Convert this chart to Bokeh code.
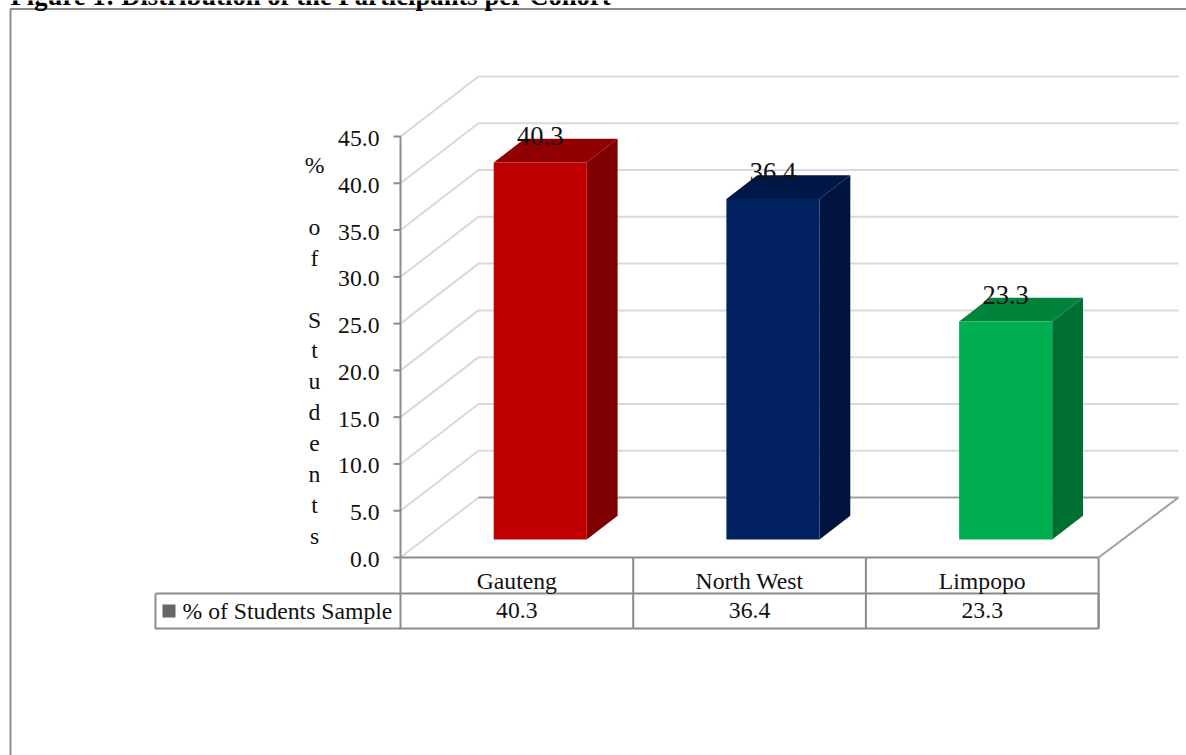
from bokeh.embed import file_html
from bokeh.resources import INLINE
from bokeh.plotting import figure
from bokeh.models import LinearAxis, FixedTicker, NumeralTickFormatter, Range1d
from bokeh.core.properties import value as fixed

categories = ["Gauteng", "North West", "Limpopo"]
series_name = "% of Students Sample"
percentages = [40.3, 36.4, 23.3]
y_ticks = [0, 5, 10, 15, 20, 25, 30, 35, 40, 45]
title_text = "Figure 1: Distribution of the Participants per Cohort"
axis_title = "% of Students"
front_colors = ["#C00000", "#002060", "#00B050"]
top_colors = ["#900000", "#001848", "#00843C"]
side_colors = ["#7E0000", "#00133F", "#006F32"]

W, H = 1186, 755
CAT_PX, UNIT_PX = 232.7, 9.356
X0_PX, Y0_PX = 400.0, 557.0
DEPTH_X, DEPTH_Y = 78 / CAT_PX, 60 / UNIT_PX
SERIF = "Liberation Serif"
FS = "23.7px"
GRID, EDGE = "#D9D9D9", "#8C8C8C"

def sx(px):
    return (px - X0_PX) / CAT_PX

def sy(py):
    return (Y0_PX - py) / UNIT_PX

def proj(cat, val, depth):
    return cat + depth * DEPTH_X, val + depth * DEPTH_Y

p = figure(width=W, height=H, output_backend="svg", toolbar_location=None,
           x_axis_type=None, y_axis_type=None, min_border=0,
           x_range=Range1d(sx(0), sx(W)), y_range=Range1d(sy(H), sy(0)),
           outline_line_color=None, background_fill_color="white")
p.grid.visible = False

# a copy of the value scale, 2px lower, which carries the axis and its tick labels
p.extra_y_ranges = {"tick_labels": Range1d(sy(H - 2), sy(-2))}

# outer chart frame
p.line([sx(10), sx(10), sx(W)], [sy(H), sy(8.5), sy(8.5)], line_color=EDGE, line_width=2)

# walls: side-wall diagonals and back-wall gridlines
for t in y_ticks[1:]:
    x0, y0 = proj(0, t, 0)
    x1, y1 = proj(0, t, 1)
    p.line([x0, x1, sx(1178)], [y0, y1, y1], line_color=GRID, line_width=2)
x1, y1 = proj(0, 0, 1)
p.line([0, x1], [0, y1], line_color=GRID, line_width=2)

# floor
_, yr = proj(3, 0, 1)
p.line([x1, sx(1178), 3], [y1, yr, 0], line_color="#A0A0A0", line_width=2)

# value axis line and tick marks, on the value scale
TICK = 7 / CAT_PX
p.line([0, 0], [y_ticks[0], y_ticks[-1]], line_color=EDGE, line_width=2)
p.segment([-TICK] * len(y_ticks), y_ticks, [0] * len(y_ticks), y_ticks, line_color=EDGE, line_width=2)

# 3D bars
D0, D1 = 0.3, 0.695
HALF = 0.2
for i, v in enumerate(percentages):
    c = i + 0.5
    fl = proj(c - HALF, 0, D0)
    fr = proj(c + HALF, 0, D0)
    tl = proj(c - HALF, v, D0)
    tr = proj(c + HALF, v, D0)
    bl = proj(c - HALF, v, D1)
    br = proj(c + HALF, v, D1)
    be = proj(c + HALF, 0, D1)
    p.patch([tl[0], tr[0], br[0], bl[0]], [tl[1], tr[1], br[1], bl[1]],
            fill_color=top_colors[i], line_color=None)
    p.patch([fr[0], be[0], br[0], tr[0]], [fr[1], be[1], br[1], tr[1]],
            fill_color=side_colors[i], line_color=None)
    p.patch([fl[0], fr[0], tr[0], tl[0]], [fl[1], fr[1], tr[1], tl[1]],
            fill_color=front_colors[i], line_color=None)
    lx, _ = proj(c, v, D0)
    _, ly = proj(c, v, D1)
    p.text([lx], [ly], text=[f"{v:.1f}"], text_font=fixed(SERIF), text_font_size="26.5px",
           text_align="center", text_baseline="middle", text_color="#111111", y_offset=-3)

# data table
top, mid, bot = sy(557), sy(593), sy(628)
left = sx(155)
p.line([left, 3, 3, left, left], [mid, mid, bot, bot, mid], line_color=EDGE, line_width=2)
for k in range(4):
    p.line([k, k], [top, bot], line_color=EDGE, line_width=2)
for i, v in enumerate(percentages):
    p.text([i + 0.5], [sy(610)], text=[f"{v:.1f}"], text_font=fixed(SERIF), text_font_size=FS,
           text_align="center", text_baseline="middle", text_color="#111111")
p.rect([sx(168.5)], [sy(610.5)], width=13 / CAT_PX, height=13 / UNIT_PX,
       fill_color="#666666", line_color=None)
p.text([sx(182)], [sy(610)], text=[series_name], text_font=fixed(SERIF), text_font_size=FS,
       text_align="left", text_baseline="middle", text_color="#111111")

# stacked axis title
for k, ch in enumerate(axis_title):
    if ch != " ":
        p.text([sx(314)], [sy(164.5 + 30.9 * k)], text=[ch], text_font=fixed(SERIF), text_font_size=FS,
               text_align="center", text_baseline="middle", text_color="#111111")

# figure caption, cut off by the page top
p.text([sx(10)], [sy(-4.5)], text=[title_text], text_font=fixed(SERIF), text_font_size="26.7px",
       text_font_style="bold", text_align="left", text_baseline="alphabetic", text_color="black")

# real axes, pinned to the chart origin
ylab = LinearAxis(fixed_location=0, y_range_name="tick_labels", ticker=FixedTicker(ticks=y_ticks),
                  formatter=NumeralTickFormatter(format="0.0"))
ylab.axis_line_color = None
ylab.major_tick_line_color = None
ylab.major_tick_in = 0
ylab.major_tick_out = 7
ylab.minor_tick_line_color = None
ylab.major_label_standoff = 14
ylab.major_label_text_font = SERIF
ylab.major_label_text_font_size = FS
ylab.major_label_text_color = "#111111"
p.add_layout(ylab, "left")

xax = LinearAxis(fixed_location=0, ticker=FixedTicker(ticks=[0.5, 1.5, 2.5]),
                 major_label_overrides={i + 0.5: c for i, c in enumerate(categories)},
                 bounds=(0, 3))
xax.axis_line_color = EDGE
xax.axis_line_width = 2
xax.major_tick_line_color = None
xax.major_tick_in = 0
xax.major_tick_out = 0
xax.minor_tick_line_color = None
xax.major_label_standoff = 10
xax.major_label_text_font = SERIF
xax.major_label_text_font_size = FS
xax.major_label_text_color = "#111111"
p.add_layout(xax, "below")

open("out.html", "w").write(file_html(p, INLINE))
